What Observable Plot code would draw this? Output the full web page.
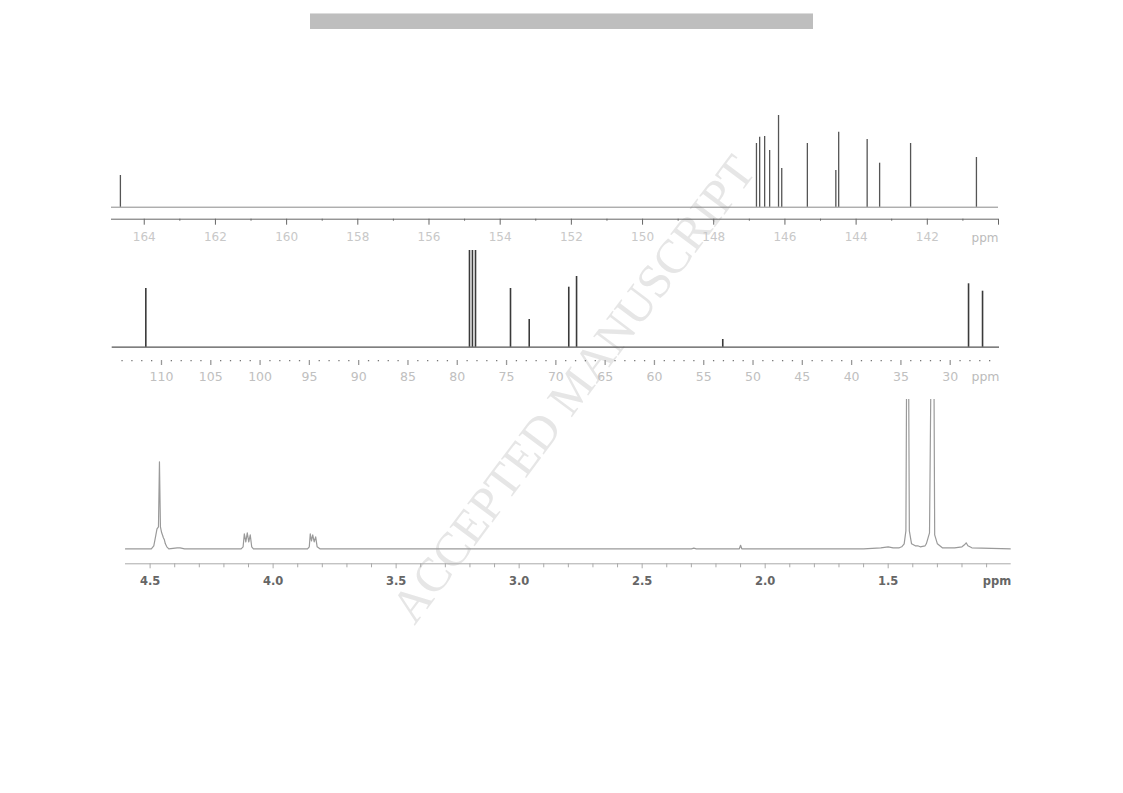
<!DOCTYPE html>
<html><head><meta charset="utf-8">
<script src="https://cdn.jsdelivr.net/npm/d3@7"></script>
<script src="https://cdn.jsdelivr.net/npm/@observablehq/plot@0.6"></script>
<style>
body{margin:0;background:#fff;}
#wrap{position:relative;width:1123px;height:793px;overflow:hidden;background:#fff;}
.panel{position:absolute;left:0;}
#bar{position:absolute;left:310px;top:13px;width:503px;height:16px;background:#bebebe;border-top:1px solid #dcdcdc;box-sizing:border-box;}
#wm{position:absolute;left:573px;top:389px;transform:translate(-50%,-50%) rotate(-53deg);font-family:"Liberation Serif","DejaVu Serif",serif;font-size:48px;line-height:1;color:#e6e6e6;white-space:nowrap;}
</style></head>
<body><div id="wrap"><div id="bar"></div><div id="wm">ACCEPTED MANUSCRIPT</div>
<div id="p1" class="panel" style="top:100px"></div>
<div id="p2" class="panel" style="top:240px"></div>
<div id="p3" class="panel" style="top:390px"></div>
</div>
<script>
// ---- 13C spectrum, 140–165 ppm ----
const c13aPpm    = [164.67, 146.80, 146.71, 146.57, 146.43, 146.18, 146.09, 145.37, 144.57, 144.49, 143.69, 143.34, 142.47, 140.62];
const c13aHeight = [31.7, 63.7, 70, 70.7, 56.7, 91.7, 38.7, 63.7, 36.7, 75, 67.7, 44, 63.7, 49.7];
const c13aTicks  = [164, 162, 160, 158, 156, 154, 152, 150, 148, 146, 144, 142, 140];
const c13aLabels = ["164","162","160","158","156","154","152","150","148","146","144","142",""];
const c13aMinor  = [163, 161, 159, 157, 155, 153, 151, 149, 147, 145, 143, 141];

// ---- 13C spectrum, 25–115 ppm ----
const c13bPpm    = [111.59, 78.76, 78.46, 78.15, 74.6, 72.7, 68.69, 67.9, 53.07, 28.14, 26.72];
const c13bHeight = [58.7, 150, 150, 150, 58.7, 27.7, 60, 70.7, 7.7, 63.4, 56];
const c13bTicks  = [110, 105, 100, 95, 90, 85, 80, 75, 70, 65, 60, 55, 50, 45, 40, 35, 30];
const c13bMinor  = d3.range(26, 115).filter(v => v % 5 !== 0);

// ---- 1H spectrum trace, 1.0–4.6 ppm (ppm, intensity) ----
const h1Ppm = [4.60, 4.495, 4.485, 4.478, 4.472, 4.466, 4.462, 4.458, 4.453, 4.450, 4.446, 4.442, 4.438, 4.432, 4.424, 4.39, 4.378, 4.36,
  4.13, 4.122, 4.117, 4.111, 4.105, 4.099, 4.093, 4.087, 4.08,
  3.86, 3.853, 3.849, 3.844, 3.839, 3.833, 3.827, 3.821, 3.81,
  2.30, 2.29, 2.28, 2.105, 2.10, 2.095,
  1.60, 1.53, 1.50, 1.48, 1.455, 1.445, 1.435, 1.428, 1.421, 1.414, 1.405, 1.39, 1.38, 1.37, 1.35, 1.345, 1.332, 1.318, 1.311, 1.30, 1.29, 1.28,
  1.23, 1.20, 1.19, 1.183, 1.176, 1.16, 1.0];
const h1Int = [0, 0, 3, 12, 20, 22, 87, 22, 16, 14, 11, 9, 5, 2, 0, 1, 1, 0,
  0, 2, 15, 7, 16, 7, 14, 2, 0,
  0, 2, 15, 8, 14, 7, 12, 2, 0,
  0, 0.6, 0, 0, 3.5, 0,
  0, 1, 2, 1, 1, 2, 5, 18, 400, 18, 5, 3, 3, 2, 3, 5, 16, 400, 14, 5, 3, 1,
  1, 2, 4, 6, 3, 1, 0];
const h1Ticks = [4.5, 4.0, 3.5, 3.0, 2.5, 2.0, 1.5];
const h1Minor = [4.4, 4.3, 4.2, 4.1, 3.9, 3.8, 3.7, 3.6, 3.4, 3.3, 3.2, 3.1, 2.9, 2.8, 2.7, 2.6, 2.4, 2.3, 2.2, 2.1, 1.9, 1.8, 1.7, 1.6, 1.4, 1.3, 1.2, 1.1];

const unitLabel = ["ppm"];

const peaksA = c13aPpm.map((p, i) => ({ppm: p, h: c13aHeight[i]}));
const peaksB = c13bPpm.map((p, i) => ({ppm: p, h: c13bHeight[i]}));
const traceH = h1Ppm.map((p, i) => ({ppm: p, h: h1Int[i]}));

const lightFont = "DejaVu Sans, Verdana, sans-serif";

const plot1 = Plot.plot({
  width: 1123, height: 150,
  marginLeft: 111, marginRight: 125, marginTop: 6.7, marginBottom: 31.3,
  style: {background: "transparent", overflow: "visible"},
  x: {domain: [164.92, 140], label: null},
  y: {domain: [-12, 100], axis: null, label: null},
  marks: [
    Plot.ruleY([0], {stroke: "#8a8a8a", strokeWidth: 1}),
    Plot.ruleX(peaksA, {x: "ppm", y1: 0, y2: "h", stroke: "#555", strokeWidth: 1.3}),
    Plot.ruleY([-12], {stroke: "#666", strokeWidth: 1}),
    Plot.axisX(c13aMinor, {tickSize: 2, tickFormat: () => "", stroke: "#666", label: null}),
    Plot.axisX(c13aTicks, {tickSize: 6, tickPadding: 7, stroke: "#666", fill: "#c8c8c8", label: null,
      tickFormat: (d) => c13aLabels[c13aTicks.indexOf(d)], fontSize: 12, fontFamily: lightFont}),
    Plot.text(unitLabel, {text: d => d, frameAnchor: "bottom-right", textAnchor: "end", lineAnchor: "middle",
      dy: 18.5, fill: "#bbbbbb", fontSize: 12, fontFamily: lightFont})
  ]
});
document.getElementById("p1").appendChild(plot1);

const plot2 = Plot.plot({
  width: 1123, height: 150,
  marginLeft: 111.7, marginRight: 124, marginTop: 10, marginBottom: 30,
  style: {background: "transparent", overflow: "visible"},
  x: {domain: [115, 25], label: null},
  y: {domain: [-13.3, 96.7], axis: null, label: null},
  marks: [
    Plot.ruleY([0], {stroke: "#555", strokeWidth: 1.3}),
    Plot.ruleX(peaksB, {x: "ppm", y1: 0, y2: "h", stroke: "#3a3a3a", strokeWidth: 1.6, clip: true}),
    Plot.axisX(c13bMinor, {tickSize: 1.3, tickFormat: () => "", stroke: "#777", strokeWidth: 1.3, label: null}),
    Plot.axisX(c13bTicks, {tickSize: 5, tickPadding: 7, stroke: "#999", strokeWidth: 1.3, fill: "#c0c0c0", label: null,
      fontSize: 12.5, fontFamily: lightFont}),
    Plot.text(unitLabel, {text: d => d, frameAnchor: "bottom-right", textAnchor: "end", lineAnchor: "middle",
      dy: 16.5, fill: "#bbbbbb", fontSize: 12.5, fontFamily: lightFont})
  ]
});
document.getElementById("p2").appendChild(plot2);

const plot3 = Plot.plot({
  width: 1123, height: 200,
  marginLeft: 125, marginRight: 112.3, marginTop: 9, marginBottom: 26.7,
  style: {background: "transparent", overflow: "visible"},
  x: {domain: [4.6, 1.0], label: null},
  y: {domain: [-15, 149.3], axis: null, label: null},
  marks: [
    Plot.line(traceH, {x: "ppm", y: "h", stroke: "#9a9a9a", strokeWidth: 1.2, clip: true}),
    Plot.ruleY([-15], {stroke: "#aaa", strokeWidth: 1}),
    Plot.axisX(h1Minor, {tickSize: 4, tickFormat: () => "", stroke: "#aaa", label: null}),
    Plot.axisX(h1Ticks, {tickSize: 5, tickPadding: 8, stroke: "#aaa", fill: "#666", label: null,
      tickFormat: d3.format(".1f"), fontSize: 11.5, fontWeight: "bold", fontFamily: lightFont}),
    Plot.text(unitLabel, {text: d => d, frameAnchor: "bottom-right", textAnchor: "end", lineAnchor: "middle",
      dy: 17.4, fill: "#666", fontSize: 11.5, fontWeight: "bold", fontFamily: lightFont})
  ]
});
document.getElementById("p3").appendChild(plot3);
</script>
</body></html>
